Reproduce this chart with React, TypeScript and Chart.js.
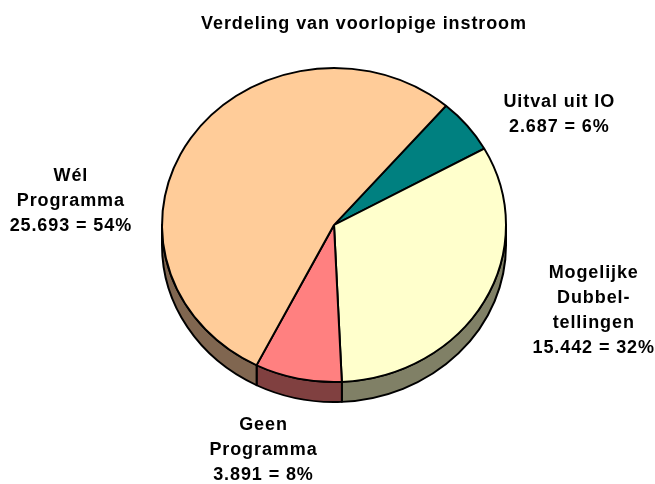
import React, { useEffect, useRef } from 'react';
import { Chart, registerables } from 'chart.js';

Chart.register(...registerables);

const TITLE = 'Verdeling van voorlopige instroom';
const categories = ['Uitval uit IO', 'Mogelijke Dubbeltellingen', 'Geen Programma', 'Wél Programma'];
const labelLines = [['Uitval uit IO'], ['Mogelijke', 'Dubbel-', 'tellingen'], ['Geen', 'Programma'], ['Wél', 'Programma']];
const values = [2687, 15442, 3891, 25693];
const topColors = ['#008080', '#FFFFCC', '#FF8080', '#FFCC99'];
const sideColors = ['#004040', '#808066', '#804040', '#806650'];
// label anchor offsets relative to the pie centre, in units of the pie radius
const labelOffsets = [[1.31, -0.64], [1.51, 0.5], [-0.41, 1.31], [-1.53, -0.14]];

const TILT = 157 / 172;
const DEPTH = 20;
const FONT = 'bold 18px "Liberation Sans", Arial, sans-serif';

const fmt = (v: number) => v.toString().replace(/\B(?=(\d{3})+(?!\d))/g, '.');

const pie3d = {
  id: 'pie3d',
  beforeDatasetsDraw(chart: any) {
    const arcs = chart.getDatasetMeta(0).data;
    if (!arcs.length) return;
    const { x: cx, y: cy, outerRadius: r } = arcs[0].getProps(['x', 'y', 'outerRadius'], true);
    const ctx = chart.ctx;
    ctx.save();
    chart.$pie3dSaved = true;
    ctx.translate(cx, cy);
    ctx.scale(1, TILT);
    ctx.translate(-cx, -cy);
    const d = DEPTH / TILT;
    arcs.forEach((arc: any, i: number) => {
      const { startAngle, endAngle } = arc.getProps(['startAngle', 'endAngle'], true);
      for (let k = -1; k <= 1; k++) {
        const lo = Math.max(startAngle, 2 * Math.PI * k);
        const hi = Math.min(endAngle, 2 * Math.PI * k + Math.PI);
        if (hi > lo) {
          ctx.beginPath();
          ctx.arc(cx, cy, r, lo, hi);
          ctx.arc(cx, cy + d, r, hi, lo, true);
          ctx.closePath();
          ctx.fillStyle = sideColors[i];
          ctx.fill();
          ctx.lineWidth = 2;
          ctx.strokeStyle = '#000';
          ctx.lineJoin = 'round';
          ctx.stroke();
        }
      }
    });
  },
  afterDatasetsDraw(chart: any) {
    if (chart.$pie3dSaved) {
      chart.ctx.restore();
      chart.$pie3dSaved = false;
    }
  },
  afterDraw(chart: any) {
    const arcs = chart.getDatasetMeta(0).data;
    if (!arcs.length) return;
    const { x: cx, y: cy, outerRadius: r } = arcs[0].getProps(['x', 'y', 'outerRadius'], true);
    const ctx = chart.ctx;
    const total = values.reduce((a, b) => a + b, 0);
    ctx.save();
    ctx.font = FONT;
    ctx.fillStyle = '#000';
    ctx.textAlign = 'center';
    ctx.textBaseline = 'middle';
    try { (ctx as any).letterSpacing = '0.9px'; } catch (e) {}
    const pitch = 25;
    values.forEach((v, i) => {
      const lines = [...labelLines[i], `${fmt(v)} = ${Math.round((v / total) * 100)}%`];
      const ax = cx + labelOffsets[i][0] * r;
      const ay = cy + labelOffsets[i][1] * r;
      const y0 = ay - ((lines.length - 1) * pitch) / 2;
      lines.forEach((t, j) => ctx.fillText(t, ax, y0 + j * pitch));
    });
    ctx.textBaseline = 'alphabetic';
    ctx.fillText(TITLE, 364, 29);
    ctx.restore();
  },
};

export default function App() {
  const ref = useRef<HTMLCanvasElement | null>(null);
  useEffect(() => {
    if (!ref.current) return;
    const chart = new Chart(ref.current, {
      type: 'pie',
      data: {
        labels: categories,
        datasets: [
          {
            data: values,
            backgroundColor: topColors,
            borderColor: '#000',
            borderWidth: 2,
            clip: false as any,
          },
        ],
      },
      options: {
        responsive: false,
        animation: false,
        events: [],
        rotation: 40.6,
        radius: 172,
        layout: { padding: { left: 13, right: 0, top: 0, bottom: 34 } },
        plugins: {
          legend: { display: false },
          title: { display: false },
          tooltip: { enabled: false },
        },
      } as any,
      plugins: [pie3d],
    });
    return () => chart.destroy();
  }, []);
  return (
    <div style={{ position: 'absolute', left: 0, top: 0, width: 655, height: 484, background: '#fff' }}>
      <canvas ref={ref} width={655} height={484} style={{ display: 'block' }} />
    </div>
  );
}
